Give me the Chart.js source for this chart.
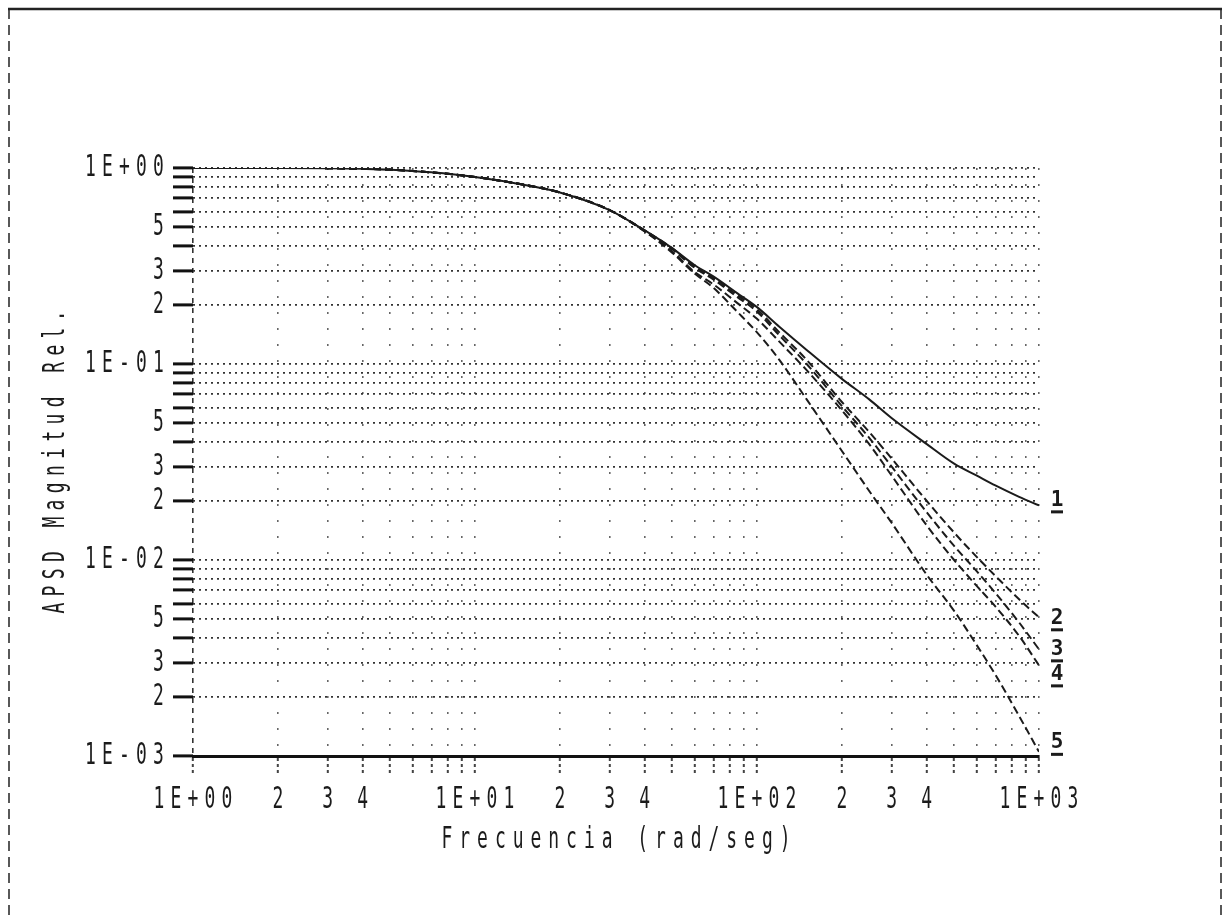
<!DOCTYPE html>
<html>
<head>
<meta charset="utf-8">
<title>APSD Magnitud Rel.</title>
<script src="https://cdn.jsdelivr.net/npm/chart.js@4.4.1/dist/chart.umd.min.js"></script>
<style>
  html, body { margin: 0; padding: 0; background: #fff; }
  #wrap { position: relative; width: 1230px; height: 915px; }
</style>
</head>
<body>
<div id="wrap"><canvas id="apsd"></canvas></div>
<script>
// frequency grid (rad/seg) shared by all five responses
const freq = [1, 2, 3, 4, 5, 7, 10, 15, 20, 30, 40, 50, 60, 70, 85, 100, 120, 150, 200, 250, 300, 400, 500, 600, 700, 850, 1000];

// relative APSD magnitude of each case
const curve1 = [1.0, 1.0, 0.998, 0.99, 0.98, 0.95, 0.90, 0.82, 0.75, 0.61, 0.48, 0.39, 0.32, 0.28, 0.23, 0.195, 0.155, 0.118, 0.084, 0.066, 0.053, 0.039, 0.031, 0.027, 0.024, 0.021, 0.019];
const curve2 = [1.0, 1.0, 0.998, 0.99, 0.98, 0.95, 0.90, 0.82, 0.75, 0.61, 0.48, 0.39, 0.315, 0.275, 0.225, 0.19, 0.145, 0.105, 0.064, 0.045, 0.033, 0.0200, 0.0138, 0.0104, 0.0083, 0.0063, 0.0051];
const curve3 = [1.0, 1.0, 0.998, 0.99, 0.98, 0.95, 0.90, 0.82, 0.75, 0.61, 0.48, 0.385, 0.31, 0.27, 0.22, 0.185, 0.14, 0.10, 0.061, 0.042, 0.030, 0.0175, 0.0118, 0.0088, 0.0068, 0.0048, 0.0035];
const curve4 = [1.0, 1.0, 0.998, 0.99, 0.98, 0.95, 0.90, 0.82, 0.75, 0.61, 0.475, 0.375, 0.295, 0.255, 0.205, 0.17, 0.13, 0.093, 0.058, 0.039, 0.027, 0.0150, 0.0100, 0.0074, 0.0058, 0.0041, 0.0029];
const curve5 = [1.0, 1.0, 0.998, 0.99, 0.98, 0.95, 0.90, 0.82, 0.75, 0.61, 0.475, 0.37, 0.29, 0.245, 0.185, 0.145, 0.105, 0.066, 0.036, 0.0225, 0.0155, 0.0084, 0.0055, 0.0037, 0.0026, 0.0016, 0.00105];
const curveNames = ['1', '2', '3', '4', '5'];

// axis ticks: every 1..9 of each decade, only some of them labelled
const xTickValues = [1, 2, 3, 4, 5, 6, 7, 8, 9, 10, 20, 30, 40, 50, 60, 70, 80, 90, 100, 200, 300, 400, 500, 600, 700, 800, 900, 1000];
const xLabelValues = [1, 2, 3, 4, 10, 20, 30, 40, 100, 200, 300, 400, 1000];
const xLabelText = ['1E+00', '2', '3', '4', '1E+01', '2', '3', '4', '1E+02', '2', '3', '4', '1E+03'];
const yTickValues = [0.001, 0.002, 0.003, 0.004, 0.005, 0.006, 0.007, 0.008, 0.009, 0.01, 0.02, 0.03, 0.04, 0.05, 0.06, 0.07, 0.08, 0.09, 0.1, 0.2, 0.3, 0.4, 0.5, 0.6, 0.7, 0.8, 0.9, 1];
const yLabelValues = [1, 0.5, 0.3, 0.2, 0.1, 0.05, 0.03, 0.02, 0.01, 0.005, 0.003, 0.002, 0.001];
const yLabelText = ['1E+00', '5', '3', '2', '1E-01', '5', '3', '2', '1E-02', '5', '3', '2', '1E-03'];
const xTitle = 'Frecuencia (rad/seg)';
const yTitle = 'APSD Magnitud Rel.';

const INK = '#1b1b1b';
const PEN_FONT = '"DejaVu Sans Mono", "Liberation Mono", monospace';
// small vertical shift of the curve tags so they don't sit on the lines
const tagNudge = [-5, 1, 0, 9, -9];

// narrow, evenly spaced plotter lettering
function penText(ctx, text, x, y, opts) {
  opts = opts || {};
  const size = opts.size || 31, sx = opts.sx || 0.58, pitch = opts.pitch || 17;
  const align = opts.align || 'center';
  ctx.save();
  ctx.translate(x, y);
  if (opts.rotate) ctx.rotate(opts.rotate);
  ctx.font = (opts.weight || 'normal') + ' ' + size + 'px ' + PEN_FONT;
  ctx.fillStyle = opts.color || INK;
  ctx.textAlign = 'center';
  ctx.textBaseline = 'middle';
  const w = pitch * text.length;
  const start = align === 'left' ? 0 : align === 'right' ? -w : -w / 2;
  for (let i = 0; i < text.length; i++) {
    ctx.save();
    ctx.translate(start + pitch * (i + 0.5), 0);
    ctx.scale(sx, 1);
    ctx.fillText(text[i], 0, 0);
    ctx.restore();
  }
  ctx.restore();
}

const sheet = {
  id: 'sheet',
  beforeDraw(chart) {
    const ctx = chart.ctx;
    ctx.save();
    ctx.fillStyle = '#fff';
    ctx.fillRect(0, 0, chart.width, chart.height);
    // page frame of the plot sheet
    ctx.strokeStyle = '#222';
    ctx.lineWidth = 2.5;
    ctx.beginPath();
    ctx.moveTo(8, 9); ctx.lineTo(1222, 9);
    ctx.stroke();
    ctx.lineWidth = 1.5;
    ctx.setLineDash([10, 6]);
    ctx.beginPath();
    ctx.moveTo(9, 9); ctx.lineTo(9, chart.height);
    ctx.moveTo(1221, 9); ctx.lineTo(1221, chart.height);
    ctx.stroke();
    ctx.restore();
  }
};

const lettering = {
  id: 'lettering',
  afterDraw(chart) {
    const ctx = chart.ctx;
    const { x, y } = chart.scales;
    const area = chart.chartArea;
    yLabelValues.forEach((v, i) => {
      penText(ctx, yLabelText[i], area.left - 26, y.getPixelForValue(v), { align: 'right' });
    });
    xLabelValues.forEach((v, i) => {
      penText(ctx, xLabelText[i], x.getPixelForValue(v), area.bottom + 44);
    });
    penText(ctx, xTitle, (area.left + area.right) / 2, area.bottom + 84, { pitch: 17.8 });
    penText(ctx, yTitle, 56, (area.top + area.bottom) / 2, { pitch: 17.2, rotate: -Math.PI / 2 });

    // curve number tags, underlined, at the right end of each line
    chart.data.datasets.forEach((ds, i) => {
      const last = ds.data[ds.data.length - 1];
      const px = area.right + 18;
      const py = y.getPixelForValue(last.y) + tagNudge[i];
      ctx.save();
      ctx.font = 'bold 21px ' + PEN_FONT;
      ctx.fillStyle = INK;
      ctx.textAlign = 'center';
      ctx.textBaseline = 'middle';
      ctx.fillText(curveNames[i], px, py);
      ctx.fillRect(px - 6, py + 10, 12, 3);
      ctx.restore();
    });
  }
};

function series(values) {
  return freq.map((f, i) => ({ x: f, y: values[i] }));
}

const lineStyle = (values, dash) => ({
  data: series(values),
  borderColor: INK,
  borderWidth: 2,
  borderDash: dash,
  pointRadius: 0,
  fill: false,
  cubicInterpolationMode: 'monotone'
});

new Chart(document.getElementById('apsd'), {
  type: 'line',
  data: {
    datasets: [
      lineStyle(curve1, []),
      lineStyle(curve2, [8, 4]),
      lineStyle(curve3, [8, 4]),
      lineStyle(curve4, [8, 4]),
      lineStyle(curve5, [8, 4])
    ]
  },
  options: {
    responsive: true,
    maintainAspectRatio: false,
    animation: false,
    events: [],
    layout: { padding: { left: 0, top: 168, right: 191, bottom: 0 } },
    plugins: { legend: { display: false }, tooltip: { enabled: false } },
    scales: {
      x: {
        type: 'logarithmic',
        min: 1,
        max: 1000,
        afterBuildTicks: (axis) => { axis.ticks = xTickValues.map((v) => ({ value: v })); },
        afterFit: (axis) => { axis.height = 159; },
        ticks: { display: false },
        grid: {
          color: (c) => (c.tick && c.tick.value === 1 ? '#333' : '#666'),
          lineWidth: 1.6,
          drawTicks: true,
          tickLength: 18,
          tickWidth: 2,
          tickColor: '#444',
          tickBorderDash: [3, 3]
        },
        border: {
          display: true,
          color: '#111',
          width: 3,
          dash: (c) => (c.tick && c.tick.value === 1 ? [5, 5] : [2, 14])
        }
      },
      y: {
        type: 'logarithmic',
        min: 0.001,
        max: 1,
        afterBuildTicks: (axis) => { axis.ticks = yTickValues.map((v) => ({ value: v })); },
        afterFit: (axis) => { axis.width = 193; },
        ticks: { display: false },
        grid: {
          color: '#333',
          lineWidth: 1.8,
          drawTicks: true,
          tickLength: 20,
          tickWidth: 3,
          tickColor: '#111',
          tickBorderDash: []
        },
        border: { display: false, dash: [2, 4] }
      }
    }
  },
  plugins: [sheet, lettering]
});
</script>
</body>
</html>
